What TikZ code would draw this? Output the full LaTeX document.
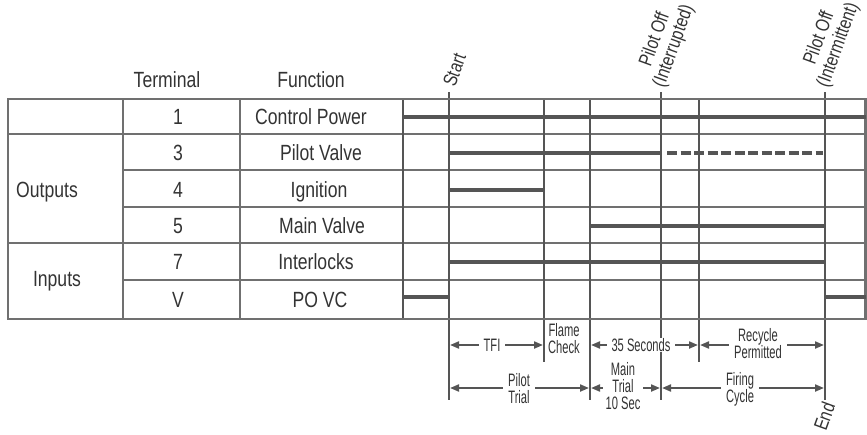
\documentclass[tikz,border=0pt]{standalone}
\usepackage{fontspec}
\setmainfont{Liberation Sans}
\newfontfamily\cnd[FakeStretch=0.8]{Liberation Sans}
\newfontfamily\cnds[FakeStretch=0.62]{Liberation Sans}
\usetikzlibrary{arrows.meta}
\definecolor{txt}{HTML}{333333}
\definecolor{sig}{HTML}{555555}
\definecolor{gridc}{HTML}{707070}
\begin{document}
\begin{tikzpicture}[x=1pt,y=-1pt,
  lbl/.style={text=txt, font=\cnd\fontsize{22}{24}\selectfont, inner sep=0pt, anchor=base},
  small/.style={text=txt, font=\cnds\fontsize{18}{17}\selectfont, align=center, inner xsep=5pt, inner ysep=0pt, fill=white},
  rot/.style={text=txt, font=\cnd\fontsize{19.5}{20}\selectfont, align=center, inner sep=0pt, rotate=70},
  sigline/.style={sig, line width=4.5pt},
  gridh/.style={gridc, line width=1.6pt},
  tline/.style={sig, line width=2pt},
  dim/.style={sig, line width=2pt, {Triangle[length=9pt,width=7pt]}-{Triangle[length=9pt,width=7pt]}}
]
\useasboundingbox (0,0) rectangle (867,434);

% time markers
\coordinate (atop) at (403,99);
\coordinate (abot) at (403,319);
\coordinate (ctop) at (544,99);
\coordinate (dtop) at (590,99);
\coordinate (ftop) at (699,99);
\coordinate (bhi) at (449,92);
\coordinate (ehi) at (661,92);
\coordinate (ghi) at (825,92);
\coordinate (blo) at (449,400);
\coordinate (clo) at (544,362);
\coordinate (dlo) at (590,400);
\coordinate (elo) at (661,400);
\coordinate (flo) at (699,362);
\coordinate (glo) at (825,400);

% horizontal grid lines
\draw[gridh] (8,134) -- (866,134);
\draw[gridh] (123,170) -- (866,170);
\draw[gridh] (123,207) -- (866,207);
\draw[gridh] (8,243) -- (866,243);
\draw[gridh] (123,280) -- (866,280);
% left column lines
\draw[gridh] (123,99) -- (123,319);
\draw[gridh] (240,99) -- (240,319);
\draw[tline] (atop) -- (abot);

% time lines
\draw[tline] (bhi) -- (blo);
\draw[tline] (ctop) -- (clo);
\draw[tline] (dtop) -- (dlo);
\draw[tline] (ehi) -- (elo);
\draw[tline] (ftop) -- (flo);
\draw[tline] (ghi) -- (glo);

% outer border
\draw[gridc, line width=2.6pt] (8,99) rectangle (865.5,319);

% signals
\draw[sigline] (403,117) -- (866,117);
\draw[sigline] (449,153) -- (661,153);
\draw[sigline, dash pattern=on 10pt off 3.5pt] (667,153) -- (823,153);
\draw[sigline] (449,190) -- (544,190);
\draw[sigline] (590,226) -- (825,226);
\draw[sigline] (449,262) -- (825,262);
\draw[sigline] (403,297) -- (449,297);
\draw[sigline] (825,297) -- (866,297);

% headers
\node[lbl] (hterm) at (167,87) {Terminal};
\node[lbl] (hfunc) at (311,87) {Function};

% rows
\node[lbl] (t1) at (178,124.5) {1};
\node[lbl] (f1) at (311,124.5) {Control Power};
\node[lbl] (t3) at (178,160) {3};
\node[lbl] (f3) at (321,160) {Pilot Valve};
\node[lbl] (t4) at (178,197) {4};
\node[lbl] (f4) at (319,197) {Ignition};
\node[lbl] (t5) at (178,233) {5};
\node[lbl] (f5) at (322,233) {Main Valve};
\node[lbl] (t7) at (178,269.5) {7};
\node[lbl] (f7) at (316,269.5) {Interlocks};
\node[lbl] (tv) at (178,307) {V};
\node[lbl] (fv) at (320,307) {PO VC};
\node[lbl] (gout) at (47,197) {Outputs};
\node[lbl] (ginp) at (57,286) {Inputs};

% rotated event labels
\node[rot, anchor=base west] (lstart) at (455,88) {Start};
\node[rot, anchor=south west] (lint) at (668,90) {Pilot Off\\(Interrupted)};
\node[rot, anchor=south west] (lintm) at (832,90) {Pilot Off\\(Intermittent)};
\node[rot, anchor=base west] (lend) at (826,432) {End};

% dimension arrows row 1
\draw[dim] ([xshift=1pt]blo |- 0,345) -- ([xshift=-1pt]clo |- 0,345);
\draw[dim] ([xshift=1pt]dlo |- 0,345) -- ([xshift=-1pt]flo |- 0,345);
\draw[dim] ([xshift=1pt]flo |- 0,345) -- ([xshift=-1pt]glo |- 0,345);
% row 2
\draw[dim] ([xshift=1pt]blo |- 0,388) -- ([xshift=-1pt]dlo |- 0,388);
\draw[dim] ([xshift=1pt]dlo |- 0,388) -- ([xshift=-1pt]elo |- 0,388);
\draw[dim] ([xshift=1pt]elo |- 0,388) -- ([xshift=-1pt]glo |- 0,388);

% labels of dimensions
\node[small] (tfi) at (492,345) {TFI};
\node[small, fill=none] (flame) at (564,339) {Flame\\Check};
\node[small] (s35) at (641,345) {35 Seconds};
\node[small] (recyc) at (758,344) {Recycle\\Permitted};
\node[small] (ptrial) at (519,389) {Pilot\\Trial};
\node[small, inner xsep=3pt] (mtrial) at (623,386) {Main\\Trial\\10 Sec};
\node[small] (fcyc) at (740,389) {Firing\\Cycle};
\end{tikzpicture}
\end{document}
